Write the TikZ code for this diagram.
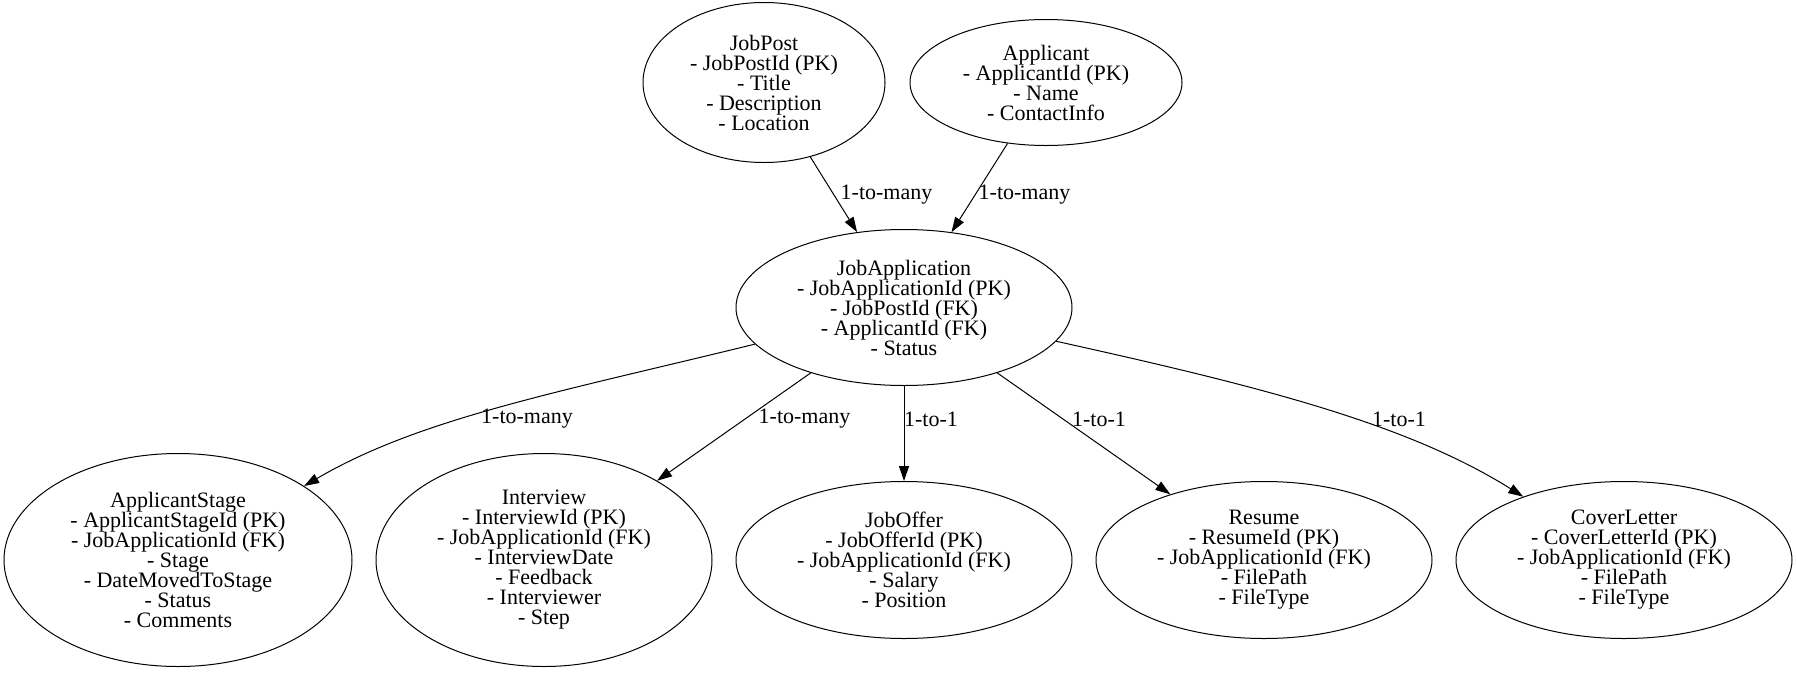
\documentclass[tikz,border=0pt]{standalone}
\usepackage{fontspec}
\setmainfont{Liberation Serif}
\usetikzlibrary{shapes.geometric,arrows.meta}
\lineskiplimit=-30pt
\begin{document}
\begin{tikzpicture}[x=1pt,y=-1pt,
  ent/.style={draw, ellipse, line width=1pt, inner sep=0pt, align=center,
    font=\fontsize{22}{20}\selectfont},
  rel/.style={draw, line width=1pt, -{Triangle[length=15pt,width=10pt]}},
  lbl/.style={font=\fontsize{22}{20}\selectfont, inner sep=0pt}]
\useasboundingbox (0,0) rectangle (1797,673);
\node[ent, minimum width=242pt, minimum height=160pt] (jp) at (764,82.5)
  {JobPost\\- JobPostId (PK)\\- Title\\- Description\\- Location};
\node[ent, minimum width=272pt, minimum height=126pt] (ap) at (1046,82.5)
  {Applicant\\- ApplicantId (PK)\\- Name\\- ContactInfo};
\node[ent, minimum width=336pt, minimum height=156pt] (ja) at (904,307.5)
  {JobApplication\\- JobApplicationId (PK)\\- JobPostId (FK)\\- ApplicantId (FK)\\- Status};
\node[ent, minimum width=348pt, minimum height=213pt] (as) at (178,560)
  {ApplicantStage\\- ApplicantStageId (PK)\\- JobApplicationId (FK)\\- Stage\\- DateMovedToStage\\- Status\\- Comments};
\node[ent, minimum width=336pt, minimum height=213pt] (iv) at (544,560)
  {Interview\\- InterviewId (PK)\\- JobApplicationId (FK)\\- InterviewDate\\- Feedback\\- Interviewer\\- Step};
\node[ent, minimum width=336pt, minimum height=157pt] (jo) at (904,560)
  {JobOffer\\- JobOfferId (PK)\\- JobApplicationId (FK)\\- Salary\\- Position};
\node[ent, minimum width=336pt, minimum height=157pt] (rs) at (1264,560)
  {Resume\\- ResumeId (PK)\\- JobApplicationId (FK)\\- FilePath\\- FileType};
\node[ent, minimum width=336pt, minimum height=157pt] (cl) at (1624,560)
  {CoverLetter\\- CoverLetterId (PK)\\- JobApplicationId (FK)\\- FilePath\\- FileType};

\draw[rel] (jp) -- (ja);
\draw[rel] (ap) -- (ja);
\draw[rel] (ja) .. controls (560,392) and (420,418) .. (as);
\draw[rel] (ja) -- (iv);
\draw[rel] (ja) -- (jo);
\draw[rel] (ja) -- (rs);
\draw[rel] (ja) .. controls (1258,386) and (1406,423) .. (cl);

\node[lbl] (l1) at (886.5,195) {1-to-many};
\node[lbl] (l2) at (1024.5,195) {1-to-many};
\node[lbl] (l3) at (527,419) {1-to-many};
\node[lbl] (l4) at (804.5,419) {1-to-many};
\node[lbl] (l5) at (931,419) {1-to-1};
\node[lbl] (l6) at (1099,419) {1-to-1};
\node[lbl] (l7) at (1399,419) {1-to-1};
\end{tikzpicture}
\end{document}
